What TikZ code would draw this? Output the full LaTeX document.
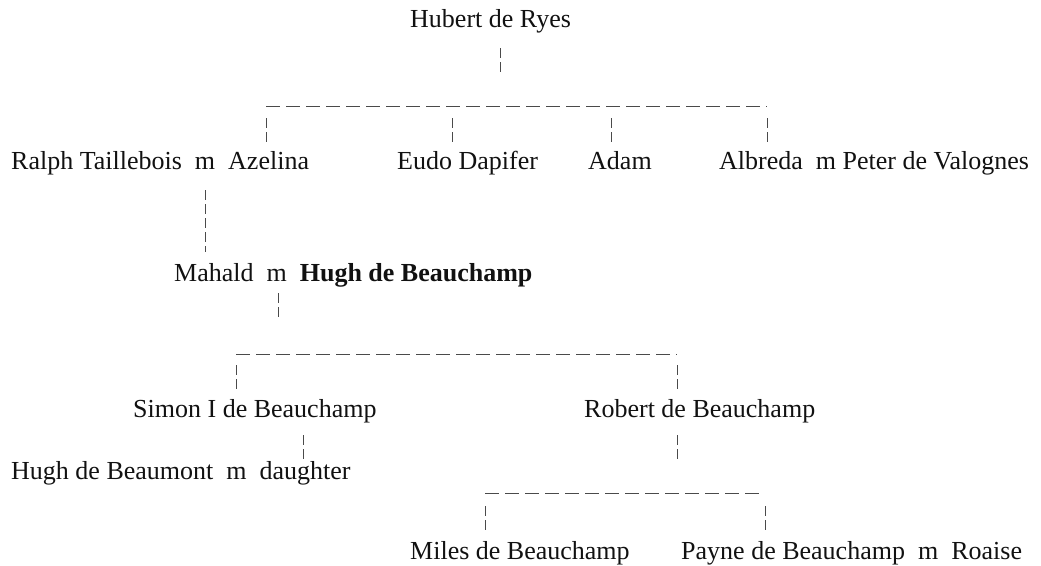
\documentclass[tikz,border=0pt]{standalone}
\usepackage{fontspec}
\setmainfont{Liberation Serif}
\definecolor{Quill}{HTML}{111111}
\definecolor{Slate}{HTML}{4A4A4A}

\begin{document}
\begin{tikzpicture}[x=1pt,y=-1pt,
    person/.style={anchor=base west,inner sep=0pt,text=Quill,font=\fontsize{26}{30}\selectfont},
    drop/.style={Slate,line width=1pt,dash pattern=on 10pt off 4pt},
    bar/.style={Slate,line width=1pt,dash pattern=on 14pt off 6pt}]
  \useasboundingbox (0,0) rectangle (1041,565);
  \node[person] (hubert) at (410,27) {Hubert de Ryes};
  \node[person] (azelina) at (11,169) {Ralph Taillebois~~m~~Azelina};
  \node[person] (eudo) at (397,169) {Eudo Dapifer};
  \node[person] (adam) at (588,169) {Adam};
  \node[person] (albreda) at (719,169) {Albreda~~m Peter de Valognes};
  \node[person] (mahald) at (174,281) {Mahald~~m~~\textbf{Hugh de Beauchamp}};
  \node[person] (simon) at (133,417) {Simon I de Beauchamp};
  \node[person] (robert) at (584,417) {Robert de Beauchamp};
  \node[person] (daughter) at (11,479) {Hugh de Beaumont~~m~~daughter};
  \node[person] (miles) at (410,559) {Miles de Beauchamp};
  \node[person] (payne) at (681,559) {Payne de Beauchamp~~m~~Roaise};

  \coordinate (hubert-d) at (500,48);
  \coordinate (k1) at (266,106);
  \coordinate (k2) at (452,106);
  \coordinate (k3) at (611,106);
  \coordinate (k4) at (767,106);
  \coordinate (azelina-d) at (205,190);
  \coordinate (mahald-d) at (278,293);
  \coordinate (s1) at (236,354);
  \coordinate (s2) at (677,354);
  \coordinate (simon-d) at (303,435);
  \coordinate (robert-d) at (677,435);
  \coordinate (r1) at (485,493);
  \coordinate (r2) at (765,493);

  \draw[drop] (hubert-d) -- ++(0,24);
  \draw[bar] (k1) -- (k4);
  \foreach \k in {k1,k2,k3,k4}
    \draw[drop] ([yshift=-12pt]\k) -- ([yshift=-36pt]\k);
  \draw[drop] (azelina-d) -- ++(0,62);
  \draw[drop] (mahald-d) -- ++(0,24);
  \draw[bar] (s1) -- (s2);
  \foreach \k in {s1,s2}
    \draw[drop] ([yshift=-11pt]\k) -- ([yshift=-35pt]\k);
  \draw[drop] (simon-d) -- ++(0,24);
  \draw[drop] (robert-d) -- ++(0,24);
  \draw[bar] (r1) -- (r2);
  \foreach \k in {r1,r2}
    \draw[drop] ([yshift=-13pt]\k) -- ([yshift=-37pt]\k);
\end{tikzpicture}
\end{document}
